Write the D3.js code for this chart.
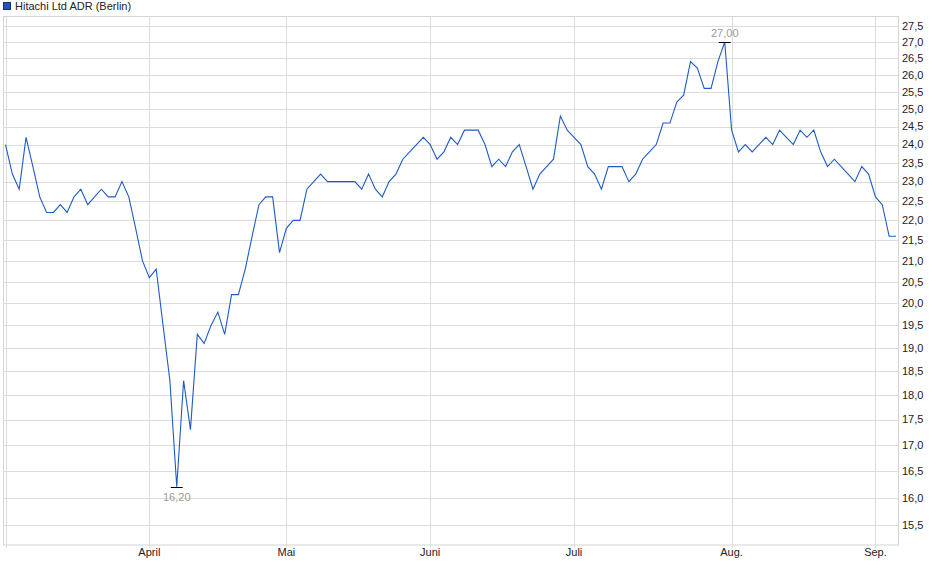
<!DOCTYPE html>
<html>
<head>
<meta charset="utf-8">
<script src="https://cdn.jsdelivr.net/npm/d3@7"></script>
<style>
  html, body { margin: 0; padding: 0; background: #fff; }
  svg { display: block; font-family: "Liberation Sans", Arial, sans-serif; }
</style>
</head>
<body>
<svg id="chart" width="940" height="579"></svg>
<script>
// ---- data ----
const seriesName = "Hitachi Ltd ADR (Berlin)";
// trading days per month (Mar 2025 .. Sep 2025)
const monthLabels = ["März", "April", "Mai", "Juni", "Juli", "Aug.", "Sep."];
const monthDays   = [21, 20, 21, 21, 23, 21, 4];
// daily closing prices (EUR)
const prices = [
  24.0, 23.2, 22.8, 24.2, 23.4, 22.6, 22.2, 22.2, 22.4, 22.2,
  22.6, 22.8, 22.4, 22.6, 22.8, 22.6, 22.6, 23.0, 22.6, 21.8,
  21.0, 20.6, 20.8, 19.5, 18.3, 16.2, 18.3, 17.3, 19.3, 19.1,
  19.5, 19.8, 19.3, 20.2, 20.2, 20.8, 21.6, 22.4, 22.6, 22.6,
  21.2, 21.8, 22.0, 22.0, 22.8, 23.0, 23.2, 23.0, 23.0, 23.0,
  23.0, 23.0, 22.8, 23.2, 22.8, 22.6, 23.0, 23.2, 23.6, 23.8,
  24.0, 24.2, 24.0, 23.6, 23.8, 24.2, 24.0, 24.4, 24.4, 24.4,
  24.0, 23.4, 23.6, 23.4, 23.8, 24.0, 23.4, 22.8, 23.2, 23.4,
  23.6, 24.8, 24.4, 24.2, 24.0, 23.4, 23.2, 22.8, 23.4, 23.4,
  23.4, 23.0, 23.2, 23.6, 23.8, 24.0, 24.6, 24.6, 25.2, 25.4,
  26.4, 26.2, 25.6, 25.6, 26.4, 27.0, 24.4, 23.8, 24.0, 23.8,
  24.0, 24.2, 24.0, 24.4, 24.2, 24.0, 24.4, 24.2, 24.4, 23.8,
  23.4, 23.6, 23.4, 23.2, 23.0, 23.4, 23.2, 22.6, 22.4, 21.6,
  21.6
];
const yTicks = [15.5, 16.0, 16.5, 17.0, 17.5, 18.0, 18.5, 19.0, 19.5, 20.0,
  20.5, 21.0, 21.5, 22.0, 22.5, 23.0, 23.5, 24.0, 24.5, 25.0,
  25.5, 26.0, 26.5, 27.0, 27.5];

// ---- layout ----
const svg = d3.select("#chart");
const frame = { left: 3, right: 898, top: 16.5, bottom: 545 };

const x = d3.scaleLinear().domain([0, prices.length - 1]).range([5.5, 896]);
const y = d3.scaleLog().domain([15.5, 27.5]).range([525.3, 26]);

const de = d3.formatLocale({ decimal: ",", thousands: ".", grouping: [3], currency: ["", "€"] });
const f1 = de.format(".1f"), f2 = de.format(".2f");

// month start indices
const monthStarts = [];
let acc = 0;
monthDays.forEach((d, k) => { monthStarts.push({ label: monthLabels[k], idx: acc }); acc += d; });
const xTickData = monthStarts.slice(1);

const snap = v => Math.round(v) + 0.5;

// frame
svg.append("rect")
  .attr("x", frame.left + 0.5).attr("y", frame.top)
  .attr("width", frame.right - frame.left).attr("height", frame.bottom - frame.top)
  .attr("fill", "none").attr("stroke", "#d4d4d4");

// horizontal grid
svg.append("g").selectAll("line").data(yTicks).join("line")
  .attr("x1", frame.left).attr("x2", frame.right)
  .attr("y1", d => snap(y(d))).attr("y2", d => snap(y(d)))
  .attr("stroke", "#dcdcdc");

// vertical grid (left inner line + months)
const vLines = [{ idx: 0 }].concat(xTickData);
svg.append("g").selectAll("line").data(vLines).join("line")
  .attr("x1", d => snap(x(d.idx))).attr("x2", d => snap(x(d.idx)))
  .attr("y1", frame.top).attr("y2", frame.bottom + 3)
  .attr("stroke", "#dcdcdc");

// y labels
svg.append("g").selectAll("text").data(yTicks).join("text")
  .attr("x", 902).attr("y", d => y(d)).attr("dy", "0.35em")
  .attr("font-size", 11).attr("fill", "#222")
  .text(d => f1(d));

// x labels
svg.append("g").selectAll("text").data(xTickData).join("text")
  .attr("x", d => x(d.idx)).attr("y", 556)
  .attr("text-anchor", "middle")
  .attr("font-size", 11).attr("fill", "#222")
  .text(d => d.label);

// price line
const line = d3.line().x((d, i) => x(i)).y(d => y(d));
svg.append("path").datum(prices)
  .attr("d", line)
  .attr("fill", "none").attr("stroke", "#1f5bc4").attr("stroke-width", 1.1);

// extremes
const maxI = d3.maxIndex(prices), minI = d3.minIndex(prices);
[[maxI, -1], [minI, 1]].forEach(([i, dir]) => {
  const px = x(i), py = y(prices[i]);
  svg.append("line")
    .attr("x1", px - 6).attr("x2", px + 6)
    .attr("y1", Math.round(py) + 0.5).attr("y2", Math.round(py) + 0.5)
    .attr("stroke", "#000");
  svg.append("text")
    .attr("x", px).attr("y", dir < 0 ? py - 5 : py + 14)
    .attr("text-anchor", "middle").attr("font-size", 11).attr("fill", "#a09a94")
    .text(f2(prices[i]));
});

// legend
svg.append("rect").attr("x", 3.5).attr("y", 2.5).attr("width", 7).attr("height", 7)
  .attr("fill", "#1f55b8").attr("stroke", "#1a2f66");
svg.append("text").attr("x", 15).attr("y", 10)
  .attr("font-size", 11).attr("fill", "#222").text(seriesName);
</script>
</body>
</html>
